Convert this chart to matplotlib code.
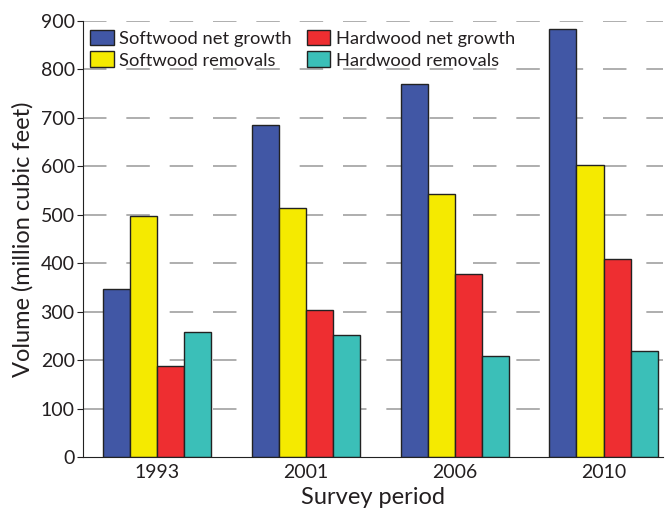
import matplotlib
matplotlib.use("Agg")
import matplotlib.pyplot as plt
import numpy as np

periods = ["1993", "2001", "2006", "2010"]
series_names = ["Softwood net growth", "Softwood removals", "Hardwood net growth", "Hardwood removals"]
softwood_growth = [346, 686, 771, 884]
softwood_removals = [498, 514, 543, 603]
hardwood_growth = [187, 304, 377, 408]
hardwood_removals = [259, 251, 209, 218]
colors = ["#4157a5", "#f5ea00", "#ee2e31", "#3bbfb8"]
yticks = [0, 100, 200, 300, 400, 500, 600, 700, 800, 900]

plt.rcParams['font.family'] = ['Lato', 'DejaVu Sans']

fig = plt.figure(figsize=(6.66, 5.13), dpi=100)
ax = fig.add_axes([0.1246, 0.109, 0.8709, 0.850])

x = np.arange(len(periods))
w = 0.182
data = [softwood_growth, softwood_removals, hardwood_growth, hardwood_removals]
for i, (vals, name, c) in enumerate(zip(data, series_names, colors)):
    ax.bar(x + (i - 1.5) * w, vals, width=w, color=c, edgecolor="#222222",
           linewidth=1.0, label=name, zorder=3)

ax.set_xlim(-0.5, 3.4)
ax.set_ylim(0, 900)
ax.set_yticks(yticks)
ax.set_xticks(x)
ax.set_xticklabels(periods)
ax.yaxis.grid(True, color="#a8a8a8", linewidth=1.3, linestyle=(0, (13, 11)), zorder=0)
ax.get_ygridlines()[0].set_visible(False)
ax.set_axisbelow(True)
for s in ["top", "right"]:
    ax.spines[s].set_visible(False)
ax.spines["left"].set_color("#222222")
ax.spines["bottom"].set_color("#222222")
ax.spines["bottom"].set_zorder(4)
ax.tick_params(axis="x", length=0, labelsize=14, pad=5, colors="#231f20")
ax.tick_params(axis="y", length=4, labelsize=14, colors="#231f20", pad=2)
ax.set_ylabel("Volume (million cubic feet)", fontsize=17, color="#231f20", labelpad=5)
ax.set_xlabel("Survey period", fontsize=17, color="#231f20", labelpad=4)

leg = ax.legend(ncol=2, loc="upper left", frameon=False, fontsize=13.2,
                bbox_to_anchor=(-0.01, 1.01), handlelength=1.3, handleheight=0.95,
                handletextpad=0.3, columnspacing=0.8, labelspacing=0.25,
                borderaxespad=0.3)
for t in leg.get_texts():
    t.set_color("#231f20")

fig.savefig("out.png", dpi=100)
